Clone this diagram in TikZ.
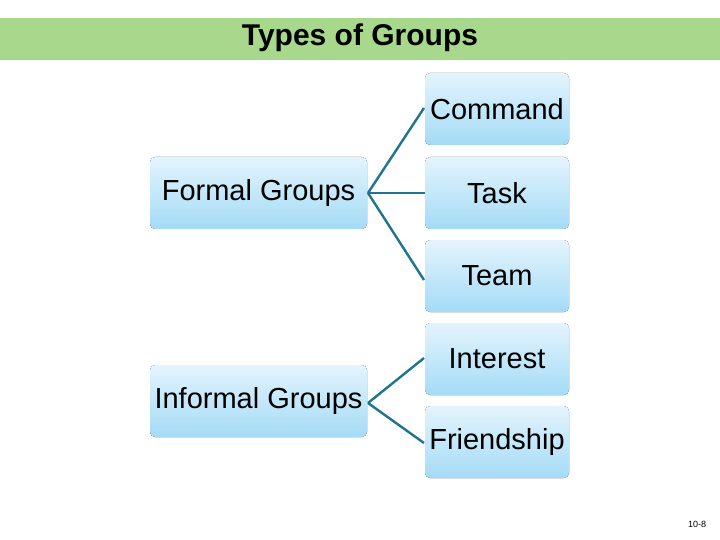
\documentclass[tikz,border=0pt]{standalone}
\usepackage{fontspec}
\setmainfont{Liberation Sans}
\begin{document}
\begin{tikzpicture}[x=1pt,y=-1pt,
  box/.style={rounded corners=5pt,top color=boxtop,bottom color=boxbot,draw=none},
  lbl/.style={font=\fontsize{29}{32}\selectfont,text=black},
  conn/.style={draw=linecol,line width=2.4pt}]
\definecolor{boxtop}{HTML}{E4F4FD}
\definecolor{boxbot}{HTML}{A4DBF6}
\definecolor{linecol}{HTML}{1F7490}
\definecolor{titlebg}{HTML}{A8D88C}
\useasboundingbox (0,0) rectangle (720,540);
\fill[titlebg] (0,18) rectangle (720,60);
\node[font=\bfseries\fontsize{30}{34}\selectfont] (title) at (360,38) {Types of Groups};
% left boxes
\fill[box] (150,157) rectangle (367,229);
\node[lbl] (formal) at (258.5,193) {Formal Groups};
\fill[box] (150,365) rectangle (367,437);
\node[lbl] (informal) at (258.5,401) {Informal Groups};
% right boxes
\foreach \n/\t/\y in {command/Command/73,task/Task/157,team/Team/240,interest/Interest/323,friend/Friendship/406}{
  \fill[box] (425,\y) rectangle (569,\y+72);
  \node[lbl] (\n) at (497,\y+36) {\t};
}
\coordinate (f0) at (368,193);
\coordinate (i0) at (368,403);
\draw[conn] (f0) -- (424,108);
\draw[conn] (f0) -- (425,193);
\draw[conn] (f0) -- (424,280);
\draw[conn] (i0) -- (424,358);
\draw[conn] (i0) -- (424,443);
\node[font=\fontsize{9}{10}\selectfont] (pg) at (697,524) {10-8};
\end{tikzpicture}
\end{document}
